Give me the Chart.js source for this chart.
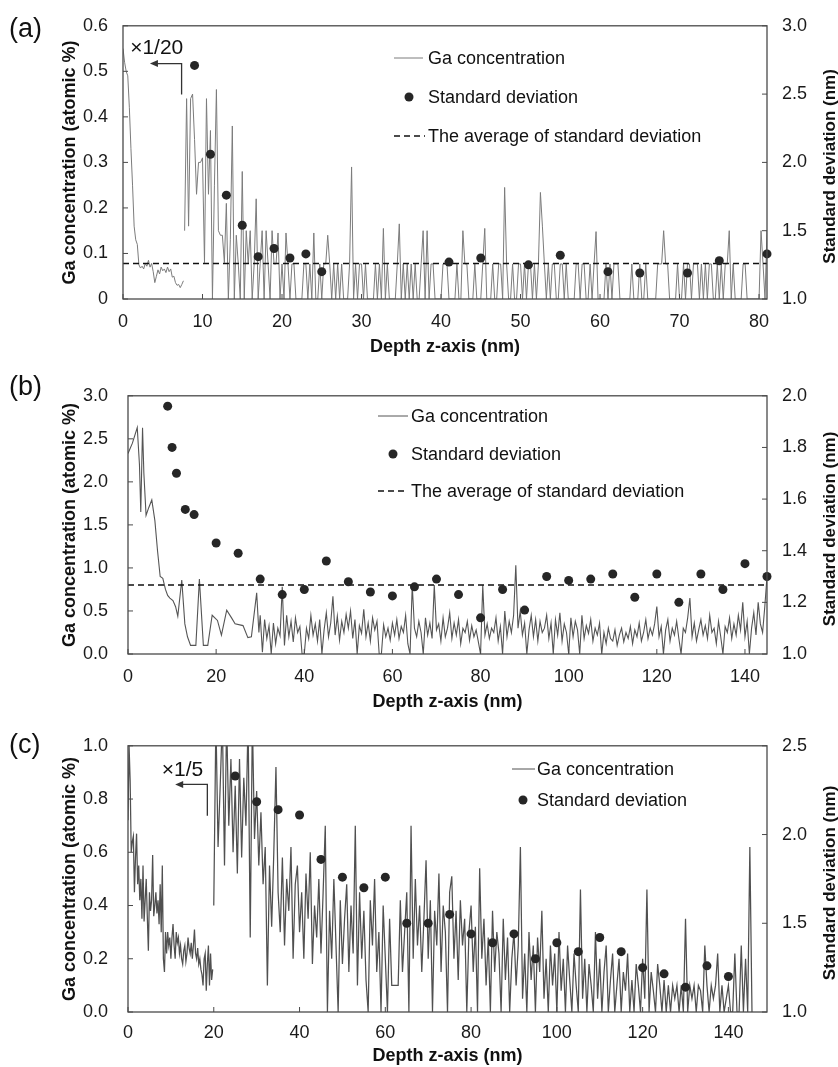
<!DOCTYPE html>
<html>
<head>
<meta charset="utf-8">
<script src="https://cdn.jsdelivr.net/npm/chart.js@4.4.1/dist/chart.umd.min.js"></script>
<style>
  html, body { margin: 0; padding: 0; background: #fff; }
  #wrap { position: relative; width: 838px; height: 1067px; }
  canvas { position: absolute; left: 0; }
</style>
</head>
<body>
<div id="wrap">
  <canvas id="chartA" width="838" height="365" style="top:0px"></canvas>
  <canvas id="chartB" width="838" height="350" style="top:365px"></canvas>
  <canvas id="chartC" width="838" height="352" style="top:715px"></canvas>
</div>
<script>
// ---------- (a) ----------
const aSurfaceStart = 0, aSurfaceStep = 0.2;   // x 1/20 scaled part
const aSurfaceGa = [
  0.55, 0.52, 0.50, 0.49, 0.42, 0.33, 0.25, 0.16, 0.13, 0.12,
  0.075, 0.068, 0.072, 0.066, 0.078, 0.072, 0.085, 0.07, 0.078, 0.06,
  0.036, 0.05, 0.064, 0.055, 0.07, 0.062, 0.066, 0.058, 0.07, 0.06,
  0.066, 0.048, 0.05, 0.036, 0.03, 0.032, 0.025, 0.032, 0.04
];
const aBulkStart = 7.75, aBulkStep = 0.25;
const aBulkGa = [
  0.15,
  0.44, 0.16, 0.44, 0.45,   0.35, 0.23, 0.30, 0.30,   0.31, 0.08, 0.44, 0.23,
  0.37, 0, 0.25, 0.46,      0.15, 0.14, 0.14, 0.08,   0.21, 0, 0.13, 0.38,
  0, 0.14, 0.077, 0,        0.28, 0, 0.15, 0.077,     0.15, 0, 0.077, 0.22,
  0, 0.077, 0.15, 0,        0.15, 0.077, 0, 0.15,     0.077, 0.077, 0.145, 0,
  0.077, 0, 0.145, 0.077,   0, 0.077, 0.077, 0,       0, 0, 0, 0.077,
  0.077, 0, 0.077, 0,       0.145, 0, 0, 0.077,       0, 0.077, 0.077, 0.14,
  0.077, 0, 0.077, 0,       0.077, 0, 0.077, 0,       0, 0, 0.077, 0.29,
  0, 0.077, 0, 0.077,       0.077, 0, 0.077, 0,       0, 0, 0, 0.077,
  0, 0.077, 0, 0.155,       0, 0.077, 0, 0,           0, 0, 0.077, 0.165,
  0, 0.077, 0, 0.077,       0, 0.077, 0, 0.077,       0, 0, 0.077, 0.15,
  0, 0.15, 0, 0.077,        0.077, 0, 0, 0,           0, 0.077, 0.077, 0.077,
  0, 0, 0, 0,               0.077, 0, 0, 0.15,        0.077, 0.077, 0, 0,
  0, 0.077, 0, 0,           0, 0.077, 0.155, 0,       0, 0, 0.077, 0,
  0, 0.077, 0.077, 0,       0.245, 0.077, 0, 0,       0.077, 0, 0, 0.077,
  0.077, 0, 0.077, 0,       0.077, 0.077, 0, 0.077,   0, 0.077, 0.234, 0.16,
  0.077, 0, 0.077, 0,       0.077, 0.077, 0, 0,       0.077, 0.077, 0, 0.077,
  0, 0, 0, 0,               0.077, 0.077, 0, 0.077,   0.077, 0, 0, 0.077,
  0, 0.077, 0.148, 0,       0, 0, 0, 0.077,           0, 0.077, 0, 0.077,
  0.077, 0.077, 0, 0,       0, 0, 0, 0,               0.077, 0, 0, 0,
  0.077, 0, 0, 0.077,       0, 0, 0, 0,               0, 0.077, 0.077, 0.077,
  0.15, 0.077, 0.077, 0,    0, 0, 0, 0.077,           0, 0, 0.077, 0,
  0.077, 0.077, 0, 0.077,   0.077, 0.077, 0, 0.077,   0, 0.077, 0, 0.077,
  0.077, 0, 0, 0.077,       0, 0.077, 0, 0.077,       0.077, 0.15, 0, 0.077,
  0, 0, 0, 0,               0.077, 0.077, 0, 0,       0, 0, 0, 0,
  0, 0.15, 0.077, 0,
  0.15
];
const aSdDepth = [9, 11, 13, 15, 17, 19, 21, 23, 25, 41, 45, 51, 55, 61, 65, 71, 75, 81];
const aSd = [2.71, 2.06, 1.76, 1.54, 1.31, 1.37, 1.30, 1.33, 1.20, 1.27, 1.30, 1.25, 1.32, 1.20, 1.19, 1.19, 1.28, 1.33];
const aSdAverage = 1.26;

// ---------- (b) ----------
const bSurfaceDepth = [0, 1, 2.1, 2.6, 2.9, 3.3, 3.6, 4.1, 4.7, 5.4, 6.1, 6.7, 7.3, 7.9, 8.5, 9.0, 9.5, 10.2, 10.8, 11.3,
  12.2, 12.9, 13.5, 14.2, 15.4, 16.2, 17.1, 18.1, 19.1, 20.3, 21.2, 22.4, 23.5, 24.3, 26.1, 27.2, 28.0, 29.2, 29.7];
const bSurfaceGa = [2.33, 2.45, 2.63, 2.2, 1.65, 2.63, 2.1, 1.61, 1.7, 1.79, 1.55, 1.2, 0.90, 0.88, 0.75, 0.68, 0.65, 0.62, 0.55, 0.44,
  0.86, 0.35, 0.2, 0.1, 0.1, 0.87, 0.1, 0.1, 0.45, 0.39, 0.22, 0.51, 0.42, 0.35, 0.33, 0.19, 0.2, 0.71, 0.25];
const bBulkStart = 30, bBulkStep = 0.5;
const bBulkGa = [
  0.45, 0.02, 0.40, 0.18, 0.33, 0, 0.36, 0.12, 0.30, 0.21,
  0.78, 0.10, 0.45, 0.20, 0.38, 0.14, 0.42, 0.25, 0.32, 0,
  0, 0.30, 0.18, 0.45, 0.22, 0.35, 0.15, 0.40, 0, 0.28,
  0.48, 0.20, 0.36, 0.67, 0.22, 0.44, 0.16, 0.38, 0.25, 0.46,
  0.30, 0.50, 0.18, 0.40, 0, 0.33, 0.24, 0.52, 0.20, 0.36,
  0.15, 0.42, 0.28, 0.38, 0, 0, 0.34, 0.20, 0.30, 0.16,
  0.36, 0.22, 0.40, 0.18, 0.32, 0.25, 0.45, 0.12, 0, 0.80,
  0.30, 0.20, 0.38, 0.25, 0, 0.42, 0.22, 0.36, 0.18, 0.80,
  0.28, 0.35, 0.15, 0.42, 0.20, 0.30, 0.48, 0.18, 0.36, 0.22,
  0.40, 0.12, 0.30, 0.25, 0.38, 0.16, 0.33, 0.20, 0.28, 0.14,
  0, 0.80, 0.22, 0.35, 0.18, 0.30, 0.25, 0.42, 0.15, 0.32,
  0, 0.50, 0.20, 0.38, 0.25, 0.45, 1.03, 0.30, 0.50, 0.22,
  0.36, 0, 0.28, 0.45, 0.20, 0.40, 0.15, 0.38, 0.25, 0.30,
  0.45, 0.18, 0.36, 0, 0.40, 0.22, 0.48, 0.15, 0.35, 0.25,
  0, 0.42, 0.20, 0.38, 0.28, 0, 0.45, 0.18, 0.33, 0.24,
  0.40, 0.15, 0.30, 0.22, 0.36, 0, 0.25, 0.12, 0.30, 0.18,
  0.15, 0.28, 0.10, 0.22, 0.30, 0.14, 0.25, 0.18, 0.32, 0.12,
  0.28, 0.20, 0.36, 0.15, 0.25, 0.40, 0.18, 0.30, 0.22, 0.35,
  0.55, 0.20, 0.32, 0, 0.28, 0.40, 0.15, 0.30, 0.22, 0.38,
  0.18, 0, 0.30, 0.25, 0.42, 0.65, 0.20, 0.36, 0.15, 0.28,
  0.40, 0.22, 0.33, 0.18, 0.45, 0.25, 0.30, 0.12, 0.38, 0.20,
  0, 0.32, 0.25, 0.42, 0.18, 0.35, 0.22, 0.45, 0.28, 0.60,
  0.20, 0.38, 0, 0.30, 0.48, 0.22, 0.60, 0.35, 0.25, 0.55,
  0.90
];
const bSdDepth = [9, 10, 11, 13, 15, 20, 25, 30, 35, 40, 45, 50, 55, 60, 65, 70, 75, 80, 85, 90, 95, 100, 105, 110, 115, 120, 125, 130, 135, 140, 145];
const bSd = [1.96, 1.80, 1.70, 1.56, 1.54, 1.43, 1.39, 1.29, 1.23, 1.25, 1.36, 1.28, 1.24, 1.225, 1.26, 1.29, 1.23, 1.14, 1.25, 1.17,
  1.30, 1.285, 1.29, 1.31, 1.22, 1.31, 1.20, 1.31, 1.25, 1.35, 1.30];
const bSdAverage = 1.267;

// ---------- (c) ----------
const cSurfaceStart = 0, cSurfaceStep = 0.25;  // x 1/5 scaled part
const cSurfaceGa = [
  0.72, 1.00, 0.87, 0.60,  0.64, 0.66, 0.45, 0.58,  0.67, 0.48, 0.55, 0.42,  0.50, 0.35, 0.55, 0.34,
  0.42, 0.50, 0.36, 0.23,  0.45, 0.38, 0.42, 0.59,  0.36, 0.40, 0.45, 0.37,  0.42, 0.33, 0.48, 0.30,
  0.55, 0.20, 0.15, 0.30,  0.22, 0.30, 0.25, 0.28,  0.20, 0.28, 0.33, 0.25,  0.20, 0.30, 0.26, 0.28,
  0.22, 0.25, 0.20, 0.18,  0.23, 0.25, 0.19, 0.22,  0.28, 0.24, 0.22, 0.26,  0.20, 0.25, 0.31, 0.22,
  0.20, 0.24, 0.18, 0.20,  0.16, 0.14, 0.10, 0.20,  0.22, 0.08, 0.18, 0.25,  0.10, 0.22, 0.12, 0.16
];
const cBulkStart = 20, cBulkStep = 0.5;
const cBulkGa = [
  0.40, 1.10, 0.62, 0.85, 1.10, 0.55, 1.10, 0.70, 0.95, 0.60,
  0.85, 0.52, 0.95, 0.58, 0.88, 0.70, 1.10, 0.28, 1.10, 0.65,
  0.83, 0.55, 0.75, 0.48, 0.62, 0.10, 0.55, 0.32, 0.60, 0.92,
  0.45, 0.30, 0.58, 0.25, 0.50, 0.38, 0.62, 0.20, 0.48, 0.55,
  0.30, 0.45, 0.20, 0.52, 0.35, 0.60, 0.18, 0.40, 0.28, 0.50,
  0.22, 0.45, 0.70, 0, 0.38, 0.20, 0.50, 0.25, 0, 0.42,
  0.18, 0.35, 0.48, 0.15, 0.40, 0.22, 0.70, 0.10, 0.45, 0.20,
  0.38, 0.12, 0, 0.42, 0.25, 0.50, 0.15, 0.30, 0, 0.40,
  0.20, 0, 0.35, 0.10, 0.10, 0.10, 0.10, 0.42, 0.15, 0.30,
  0.45, 0, 0.70, 0.20, 0.50, 0.25, 0.40, 0.15, 0.35, 0.57,
  0.20, 0.42, 0, 0.38, 0.25, 0.52, 0.15, 0.40, 0.30, 0,
  0.45, 0.51, 0.20, 0.38, 0.12, 0.42, 0.25, 0.35, 0, 0.30,
  0.40, 0.15, 0.32, 0, 0.54, 0.20, 0.35, 0.10, 0.28, 0,
  0.38, 0.15, 0.30, 0.22, 0, 0.35, 0.12, 0.28, 0, 0.20,
  0.30, 0.10, 0.25, 0.62, 0.05, 0.22, 0, 0.30, 0.12, 0.25,
  0, 0.28, 0.15, 0.38, 0.05, 0.20, 0, 0.25, 0.10, 0.22,
  0, 0.30, 0.08, 0.20, 0, 0.25, 0.12, 0, 0.22, 0.10,
  0, 0.46, 0.05, 0.20, 0, 0.18, 0.10, 0, 0.30, 0.05,
  0.20, 0, 0.15, 0.25, 0, 0.12, 0.22, 0, 0.10, 0.20,
  0, 0.15, 0.08, 0.22, 0, 0.12, 0, 0.18, 0.10, 0,
  0.20, 0.05, 0.46, 0, 0.15, 0.08, 0, 0.18, 0.10, 0,
  0.12, 0, 0.10, 0, 0.10, 0.05, 0.10, 0, 0.10, 0,
  0.35, 0, 0.10, 0.05, 0.10, 0, 0.10, 0.08, 0, 0.25,
  0.10, 0, 0.10, 0.05, 0.10, 0.22, 0, 0.10, 0, 0.05,
  0.10, 0, 0, 0.22, 0, 0, 0.25, 0, 0.20, 0,
  0.62, 0
];
const cSdDepth = [25, 30, 35, 40, 45, 50, 55, 60, 65, 70, 75, 80, 85, 90, 95, 100, 105, 110, 115, 120, 125, 130, 135, 140];
const cSd = [2.33, 2.185, 2.14, 2.11, 1.86, 1.76, 1.70, 1.76, 1.50, 1.50, 1.55, 1.44, 1.39, 1.44, 1.30, 1.39, 1.34, 1.42, 1.34, 1.25, 1.215, 1.14, 1.26, 1.20];

// ---------- helpers ----------
const FONT = "'Liberation Sans', Arial, Helvetica, sans-serif";
const DOT = '#262626';

function gridPoints(start, step, values) {
  return values.map((v, i) => ({ x: +(start + i * step).toFixed(3), y: v }));
}
function pairPoints(xs, ys) {
  return xs.map((x, i) => ({ x: x, y: ys[i] }));
}

function makeDecor(p) {
  return {
    id: 'decor',
    afterDraw(chart) {
      const { ctx, chartArea: a, scales } = chart;
      ctx.save();
      // plot frame
      ctx.strokeStyle = '#4a4a4a';
      ctx.lineWidth = 1.3;
      ctx.strokeRect(a.left, a.top, a.right - a.left, a.bottom - a.top);
      // inward tick marks
      ctx.beginPath();
      ctx.lineWidth = 1;
      scales.x.ticks.forEach(t => {
        const px = scales.x.getPixelForValue(t.value);
        ctx.moveTo(px, a.bottom); ctx.lineTo(px, a.bottom - 5);
      });
      scales.y.ticks.forEach(t => {
        const py = scales.y.getPixelForValue(t.value);
        ctx.moveTo(a.left, py); ctx.lineTo(a.left + 5, py);
      });
      scales.y2.ticks.forEach(t => {
        const py = scales.y2.getPixelForValue(t.value);
        ctx.moveTo(a.right, py); ctx.lineTo(a.right - 5, py);
      });
      ctx.stroke();

      // right axis title, reading bottom to top
      ctx.fillStyle = '#111';
      ctx.font = 'bold 17px ' + FONT;
      ctx.textAlign = 'center';
      ctx.textBaseline = 'middle';
      ctx.translate(830, (a.top + a.bottom) / 2 + 4);
      ctx.rotate(-Math.PI / 2);
      ctx.fillText('Standard deviation (nm)', 0, 0);
      ctx.setTransform(1, 0, 0, 1, 0, 0);

      // panel letter
      ctx.font = '27px ' + FONT;
      ctx.textAlign = 'left';
      ctx.fillText(p.label, 9, p.labelY);

      // legend
      ctx.font = '18px ' + FONT;
      p.legend.forEach(item => {
        ctx.save();
        if (item.kind === 'line' || item.kind === 'dash') {
          ctx.beginPath();
          ctx.strokeStyle = item.kind === 'line' ? p.lineColor : '#111';
          ctx.lineWidth = item.kind === 'line' ? 1 : 1.5;
          ctx.setLineDash(item.kind === 'dash' ? [6, 4] : []);
          ctx.moveTo(item.x1, item.y); ctx.lineTo(item.x2, item.y);
          ctx.stroke();
        } else {
          ctx.beginPath();
          ctx.fillStyle = DOT;
          ctx.arc((item.x1 + item.x2) / 2, item.y, 4.5, 0, Math.PI * 2);
          ctx.fill();
        }
        ctx.restore();
        ctx.fillStyle = '#111';
        ctx.fillText(item.text, item.tx, item.y + 1);
      });

      // scaled-part note with bent arrow
      if (p.note) {
        const n = p.note, sx = scales.x, sy = scales.y;
        ctx.font = '21px ' + FONT;
        ctx.fillStyle = '#111';
        ctx.fillText(n.text, sx.getPixelForValue(n.tx), sy.getPixelForValue(n.ty));
        const ax = sx.getPixelForValue(n.ax);
        const y0 = sy.getPixelForValue(n.ay0), y1 = sy.getPixelForValue(n.ay1);
        const hx = sx.getPixelForValue(n.hx);
        ctx.strokeStyle = '#333';
        ctx.lineWidth = 1.3;
        ctx.beginPath();
        ctx.moveTo(ax, y0); ctx.lineTo(ax, y1); ctx.lineTo(hx + 6, y1);
        ctx.stroke();
        ctx.beginPath();
        ctx.fillStyle = '#333';
        ctx.moveTo(hx, y1); ctx.lineTo(hx + 8, y1 - 3.5); ctx.lineTo(hx + 8, y1 + 3.5);
        ctx.closePath();
        ctx.fill();
      }
      ctx.restore();
    }
  };
}

function makePanel(id, p) {
  const datasets = [
    {
      label: 'Standard deviation', data: p.sd, yAxisID: 'y2', showLine: false,
      pointRadius: 4.5, pointBackgroundColor: DOT, pointBorderWidth: 0, clip: false, order: 0
    },
    {
      label: 'Ga concentration', data: p.ga, yAxisID: 'y', borderColor: p.lineColor, borderWidth: p.lineWidth,
      pointRadius: 0, spanGaps: false, tension: 0, order: 2
    }
  ];
  if (p.avg !== undefined) {
    datasets.push({
      label: 'The average of standard deviation', data: [{ x: 0, y: p.avg }, { x: p.xMax, y: p.avg }],
      yAxisID: 'y2', borderColor: '#111', borderWidth: 1.5, borderDash: [6, 4], pointRadius: 0, order: 1
    });
  }
  const tickFont = { family: FONT, size: 18 };
  const titleFont = { family: FONT, size: 18, weight: 'bold' };
  const hidden = { display: false, drawTicks: false };
  return new Chart(document.getElementById(id), {
    type: 'line',
    data: { datasets: datasets },
    options: {
      responsive: false,
      animation: false,
      events: [],
      layout: { padding: { top: p.padTop, bottom: p.padBottom, left: 0, right: 0 } },
      plugins: { legend: { display: false }, tooltip: { enabled: false } },
      scales: {
        x: {
          type: 'linear', min: 0, max: p.xMax,
          grid: hidden, border: { display: false },
          ticks: { stepSize: p.xStep, includeBounds: false, autoSkip: false, maxRotation: 0,
                   padding: p.xTickPad, color: '#1a1a1a', font: tickFont },
          title: { display: true, text: 'Depth z-axis (nm)', color: '#111', font: titleFont, padding: 0 },
          afterFit: s => { s.height = p.xHeight; }
        },
        y: {
          type: 'linear', position: 'left', min: 0, max: p.yMax,
          grid: hidden, border: { display: false },
          ticks: { stepSize: p.yStep, padding: p.yTickPad, color: '#1a1a1a', font: tickFont, callback: p.yFmt },
          title: { display: true, text: 'Ga concentration (atomic %)', color: '#111', font: titleFont,
                   padding: { top: 59, bottom: 0 } },
          afterFit: s => { s.width = p.leftWidth; }
        },
        y2: {
          type: 'linear', position: 'right', min: p.y2Min, max: p.y2Max,
          grid: hidden, border: { display: false },
          ticks: { stepSize: p.y2Step, padding: 15, color: '#1a1a1a', font: tickFont, callback: v => v.toFixed(1) },
          afterFit: s => { s.width = 71; }
        }
      }
    },
    plugins: [makeDecor(p)]
  });
}

// ---------- build panels ----------
makePanel('chartA', {
  ga: gridPoints(aSurfaceStart, aSurfaceStep, aSurfaceGa).concat([{ x: 7.7, y: null }], gridPoints(aBulkStart, aBulkStep, aBulkGa)),
  sd: pairPoints(aSdDepth, aSd), avg: aSdAverage,
  lineColor: '#7c7c7c', lineWidth: 1,
  xMax: 81, xStep: 10, yMax: 0.6, yStep: 0.1, yFmt: v => (v === 0 ? '0' : v.toFixed(1)),
  y2Min: 1, y2Max: 3, y2Step: 0.5,
  padTop: 20, padBottom: 7, xHeight: 59, xTickPad: 12, leftWidth: 123, yTickPad: 15,
  label: '(a)', labelY: 30,
  legend: [
    { kind: 'line', x1: 394, x2: 423, y: 58, tx: 428, text: 'Ga concentration' },
    { kind: 'dot', x1: 404, x2: 414, y: 97, tx: 428, text: 'Standard deviation' },
    { kind: 'dash', x1: 394, x2: 425, y: 136, tx: 428, text: 'The average of standard deviation' }
  ],
  note: { text: '\u00d71/20', tx: 0.9, ty: 0.55, ax: 7.37, ay0: 0.449, ay1: 0.517, hx: 3.39 }
});

makePanel('chartB', {
  ga: pairPoints(bSurfaceDepth, bSurfaceGa).concat(gridPoints(bBulkStart, bBulkStep, bBulkGa)),
  sd: pairPoints(bSdDepth, bSd), avg: bSdAverage,
  lineColor: '#555555', lineWidth: 1.1,
  xMax: 145, xStep: 20, yMax: 3, yStep: 0.5, yFmt: v => v.toFixed(1),
  y2Min: 1, y2Max: 2, y2Step: 0.2,
  padTop: 9, padBottom: 2, xHeight: 59, xTickPad: 12, leftWidth: 128, yTickPad: 20,
  label: '(b)', labelY: 23,
  legend: [
    { kind: 'line', x1: 378, x2: 408, y: 51, tx: 411, text: 'Ga concentration' },
    { kind: 'dot', x1: 388, x2: 398, y: 89, tx: 411, text: 'Standard deviation' },
    { kind: 'dash', x1: 378, x2: 408, y: 126, tx: 411, text: 'The average of standard deviation' }
  ]
});

makePanel('chartC', {
  ga: gridPoints(cSurfaceStart, cSurfaceStep, cSurfaceGa).concat([{ x: 19.85, y: null }], gridPoints(cBulkStart, cBulkStep, cBulkGa)),
  sd: pairPoints(cSdDepth, cSd),
  lineColor: '#505050', lineWidth: 1.25,
  xMax: 149, xStep: 20, yMax: 1, yStep: 0.2, yFmt: v => v.toFixed(1),
  y2Min: 1, y2Max: 2.5, y2Step: 0.5,
  padTop: 16, padBottom: 0, xHeight: 55, xTickPad: 10, leftWidth: 128, yTickPad: 20,
  label: '(c)', labelY: 31,
  legend: [
    { kind: 'line', x1: 512, x2: 535, y: 54, tx: 537, text: 'Ga concentration' },
    { kind: 'dot', x1: 518, x2: 528, y: 85, tx: 537, text: 'Standard deviation' }
  ],
  note: { text: '\u00d71/5', tx: 7.86, ty: 0.908, ax: 18.5, ay0: 0.737, ay1: 0.855, hx: 11.0 }
});
</script>
</body>
</html>
